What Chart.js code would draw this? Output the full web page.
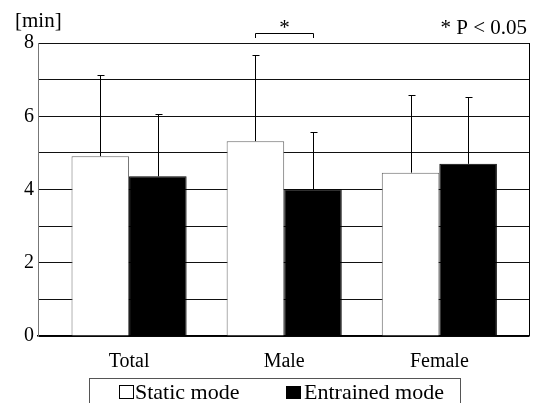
<!DOCTYPE html>
<html>
<head>
<meta charset="utf-8">
<script src="https://cdn.jsdelivr.net/npm/chart.js@4.4.1/dist/chart.umd.min.js"></script>
<style>
html, body { margin: 0; padding: 0; background: #fff; }
#wrap { width: 536px; height: 403px; }
</style>
</head>
<body>
<div id="wrap"><canvas id="myChart" width="536" height="403"></canvas></div>
<script>
// values
const categories = ['Total', 'Male', 'Female'];
const staticMean = [4.91, 5.32, 4.46];
const staticSD = [2.21, 2.34, 2.11];
const entrainedMean = [4.36, 4.01, 4.70];
const entrainedSD = [1.69, 1.56, 1.82];
const seriesNames = ['Static mode', 'Entrained mode'];
const sigIndex = [1]; // Male: static vs entrained, P < 0.05

const serif = '"Liberation Serif"';
const sds = [staticSD, entrainedSD];

const extras = {
    id: 'extras',
    afterDatasetsDraw(chart) {
        const ctx = chart.ctx;
        const y = chart.scales.y;
        ctx.save();
        ctx.strokeStyle = '#000';
        ctx.lineWidth = 1;
        chart.data.datasets.forEach((ds, d) => {
            chart.getDatasetMeta(d).data.forEach((bar, i) => {
                const x = Math.round(bar.x) + 0.5;
                const top = Math.round(y.getPixelForValue(ds.data[i].y + sds[d][i])) + 0.5;
                ctx.beginPath();
                ctx.moveTo(x, bar.y);
                ctx.lineTo(x, top);
                ctx.moveTo(x - 3, top);
                ctx.lineTo(x + 4, top);
                ctx.stroke();
            });
        });
        ctx.restore();
    },
    afterDraw(chart) {
        const ctx = chart.ctx;
        const area = chart.chartArea;
        ctx.save();
        // right side of the frame
        ctx.strokeStyle = '#000';
        ctx.lineWidth = 1;
        ctx.beginPath();
        ctx.moveTo(Math.round(area.right) + 0.5, area.top);
        ctx.lineTo(Math.round(area.right) + 0.5, area.bottom);
        ctx.stroke();

        ctx.fillStyle = '#000';
        ctx.font = '21px ' + serif;
        ctx.textBaseline = 'alphabetic';
        ctx.textAlign = 'left';
        ctx.fillText('[min]', 15, 27);
        ctx.textAlign = 'right';
        ctx.fillText('* P < 0.05', 527, 34);

        // significance bracket
        const m0 = chart.getDatasetMeta(0).data;
        const m1 = chart.getDatasetMeta(1).data;
        sigIndex.forEach(i => {
            const x1 = Math.round(m0[i].x) + 0.5;
            const x2 = Math.round(m1[i].x) + 0.5;
            ctx.beginPath();
            ctx.moveTo(x1, 38);
            ctx.lineTo(x1, 33.5);
            ctx.lineTo(x2, 33.5);
            ctx.lineTo(x2, 38);
            ctx.stroke();
            ctx.textAlign = 'center';
            ctx.fillText('*', (x1 + x2) / 2, 34);
        });

        // legend
        ctx.strokeStyle = '#555';
        ctx.strokeRect(89.5, 378.5, 371, 40);
        ctx.strokeStyle = '#000';
        ctx.strokeRect(119.5, 385.5, 14, 13);
        ctx.fillRect(286, 386, 15, 13);
        ctx.font = '22px ' + serif;
        ctx.textAlign = 'left';
        ctx.fillText(seriesNames[0], 135, 399);
        ctx.fillText(seriesNames[1], 304, 399);
        ctx.restore();
    }
};

const ctx = document.getElementById('myChart').getContext('2d');
const myChart = new Chart(ctx, {
    type: 'bar',
    data: {
        datasets: [{
            label: seriesNames[0],
            data: categories.map((c, i) => ({ x: i, y: staticMean[i] })),
            backgroundColor: '#fff',
            borderColor: '#666',
            borderWidth: 1
        }, {
            label: seriesNames[1],
            data: categories.map((c, i) => ({ x: i, y: entrainedMean[i] })),
            backgroundColor: '#000',
            borderColor: '#000',
            borderWidth: 1
        }]
    },
    options: {
        responsive: false,
        animation: false,
        events: [],
        barPercentage: 1,
        categoryPercentage: 0.742,
        layout: { padding: { top: 43, right: 7, left: 0, bottom: 0 } },
        plugins: {
            legend: { display: false },
            tooltip: { enabled: false }
        },
        scales: {
            x: {
                type: 'linear',
                min: -0.587,
                max: 2.578,
                offset: false,
                afterFit: s => { s.height = 67; },
                afterBuildTicks: s => { s.ticks = categories.map((c, i) => ({ value: i })); },
                grid: { display: false },
                border: { color: '#000', width: 1.5 },
                ticks: {
                    padding: 6,
                    color: '#000',
                    font: { family: serif, size: 20 },
                    callback: v => categories[v]
                }
            },
            y: {
                min: 0,
                max: 8,
                afterFit: s => { s.width = 38; },
                grid: { color: '#111', lineWidth: 1, drawTicks: false },
                border: { color: '#777', width: 1 },
                ticks: {
                    stepSize: 1,
                    padding: 4,
                    color: '#000',
                    font: { family: serif, size: 20 },
                    callback: v => (v % 2 === 0 ? v : '')
                }
            }
        }
    },
    plugins: [extras]
});
</script>
</body>
</html>
